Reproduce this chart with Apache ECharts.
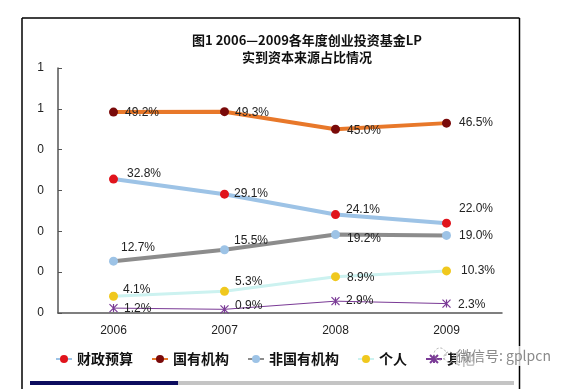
<!DOCTYPE html>
<html><head><meta charset="utf-8">
<script src="https://cdn.jsdelivr.net/npm/echarts@6/dist/echarts.min.js"></script>
<style>html,body{margin:0;padding:0;background:#fff}#c{width:574px;height:389px}</style>
</head><body><div id="c"></div>
<script>
var categories = ['2006', '2007', '2008', '2009'];
var seriesNames = ['财政预算', '国有机构', '非国有机构', '个人', '其他'];
var caizheng = [0.328, 0.291, 0.241, 0.220];
var guoyou = [0.492, 0.493, 0.450, 0.465];
var feiguoyou = [0.127, 0.155, 0.192, 0.190];
var geren = [0.041, 0.053, 0.089, 0.103];
var qita = [0.012, 0.009, 0.029, 0.023];
var yTicks = [0, 0.1, 0.2, 0.3, 0.4, 0.5, 0.6];

var allValues = [caizheng, guoyou, feiguoyou, geren, qita];
var lineColors = ['#9dc3e6', '#e8782a', '#8c8c8c', '#ccf2f0', '#7a3a96'];
var markColors = ['#e0141c', '#7a0a0a', '#9dc3e6', '#f0c81e', '#7a3a96'];
var lineWidths = [4, 4, 4, 3, 1];
var labelOffsets = [
  [[4,-5],[0,0],[1,-5],[3,-14]],
  [[2,1],[1,1],[2,1],[3,0]],
  [[-2,-13],[0,-9],[2,4],[3,0]],
  [[0,-7],[1,-10],[2,1],[5,0]],
  [[1,1],[1,-4],[1,0],[2,1]]
];
var starPath = 'path://M0,0L10,10M10,0L0,10M5,0L5,10';

var series = seriesNames.map(function(name, i) {
  var isStar = i === 4;
  return {
    name: name, type: 'line',
    data: allValues[i].map(function(v, j) {
      return { value: v, label: { offset: labelOffsets[i][j] } };
    }),
    symbol: isStar ? starPath : 'circle',
    symbolSize: isStar ? 8 : 9,
    showAllSymbol: true,
    lineStyle: { color: lineColors[i], width: lineWidths[i] },
    itemStyle: isStar ? { color: 'rgba(0,0,0,0)', borderColor: markColors[i], borderWidth: 1.2 } : { color: markColors[i] },
    label: {
      show: true, position: 'right', distance: 5,
      fontFamily: 'Liberation Sans, Arial', fontSize: 12, color: '#222',
      formatter: function(p) { return (p.value * 100).toFixed(1) + '%'; }
    },
    z: 5 - i
  };
});

var chart = echarts.init(document.getElementById('c'), null, { renderer: 'canvas' });
chart.setOption({
  backgroundColor: '#fff',
  animation: false,
  title: {
    text: '图1 2006—2009各年度创业投资基金LP\n实到资本来源占比情况',
    left: 302, top: 27, textAlign: 'center',
    textStyle: { fontFamily: 'Noto Sans CJK SC', fontWeight: 'bold', fontSize: 13, color: '#111', lineHeight: 17 }
  },
  grid: { left: 58, right: 72, top: 68, bottom: 76 },
  xAxis: {
    type: 'category', data: categories, boundaryGap: true,
    axisLine: { lineStyle: { color: '#555', width: 1.5 } },
    axisTick: { inside: true, length: 5, lineStyle: { color: '#555' } },
    axisLabel: { margin: 12, fontFamily: 'Liberation Sans, Arial', fontSize: 12, color: '#222' }
  },
  yAxis: {
    type: 'value', min: 0, max: 0.6, interval: 0.1,
    axisLine: { show: true, lineStyle: { color: '#555', width: 1.5 } },
    axisTick: { show: true, inside: true, length: 4, lineStyle: { color: '#555' } },
    splitLine: { show: false },
    axisLabel: { margin: 14, fontFamily: 'Liberation Sans, Arial', fontSize: 12, color: '#222',
      formatter: function(v) { return String(Math.round(v)); } }
  },
  legend: {
    data: seriesNames, left: 50, top: 347, itemWidth: 16, itemHeight: 10, itemGap: 18,
    textStyle: { fontFamily: 'Noto Sans CJK SC', fontWeight: 'bold', fontSize: 14, color: '#111' }
  },
  series: series,
  graphic: [
    { type: 'line', shape: { x1: 22, y1: 18, x2: 519.5, y2: 18 }, style: { stroke: '#000', lineWidth: 1.5 } },
    { type: 'line', shape: { x1: 22, y1: 18, x2: 22, y2: 389 }, style: { stroke: '#000', lineWidth: 1.5 } },
    { type: 'line', shape: { x1: 519.5, y1: 18, x2: 519.5, y2: 389 }, style: { stroke: '#000', lineWidth: 1.5 } },
    { type: 'rect', shape: { x: 30, y: 381, width: 148, height: 4 }, style: { fill: '#0c0c5e' } },
    { type: 'rect', shape: { x: 178, y: 381, width: 336, height: 4 }, style: { fill: '#c4c4c4' } },
    { type: 'rect', shape: { x: 456, y: 346, width: 100, height: 20 }, style: { fill: 'rgba(255,255,255,0.75)' }, z: 100 },
    { type: 'circle', shape: { cx: 440, cy: 354, r: 6 }, style: { fill: 'none', stroke: '#aaa', lineWidth: 1, lineDash: [2, 2] }, z: 101 },
    { type: 'circle', shape: { cx: 449, cy: 357, r: 5 }, style: { fill: 'none', stroke: '#aaa', lineWidth: 1, lineDash: [2, 2] }, z: 101 },
    { type: 'text', x: 457, y: 356, style: { text: '微信号: gplpcn', fill: '#8a8a8a', font: '14px "Noto Sans CJK SC"', textVerticalAlign: 'middle' }, z: 101 }
  ]
});
</script></body></html>
